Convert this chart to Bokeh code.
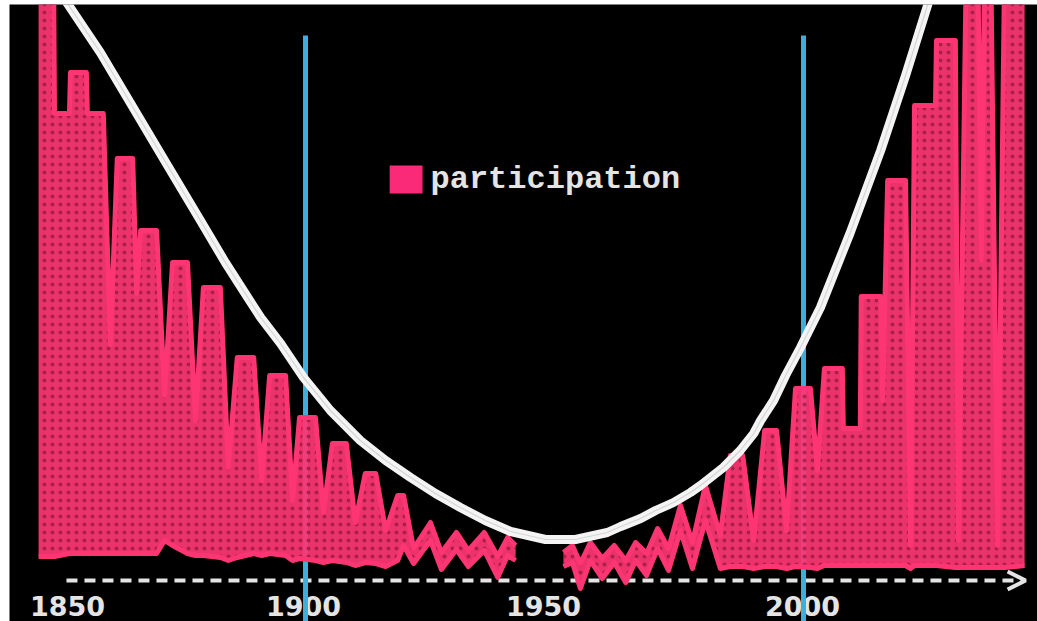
import math
from bokeh.plotting import figure
from bokeh.models import ColumnDataSource, Arrow, OpenHead, Range1d, Label, BoxAnnotation
from bokeh.core.properties import value
from bokeh.embed import file_html
from bokeh.resources import INLINE

nan = float("nan")

# ---- data ----
# participation band: upper and lower edge of the pink trace (gap ~1943-1951)
pink_years = [1846.4, 1849.4, 1849.6, 1852.6, 1852.8, 1856.0, 1856.2, 1859.4, 1860.8, 1862.2,
              1865.3, 1866.1, 1866.9, 1870.1, 1871.7, 1873.3, 1876.3, 1877.9, 1879.5, 1882.9,
              1884.5, 1886.3, 1889.6, 1891.2, 1892.8, 1896.0, 1897.4, 1898.8, 1902.0, 1903.6,
              1905.4, 1908.2, 1910.0, 1912.0, 1914.1, 1916.1, 1918.5, 1919.7, 1921.7, 1925.1,
              1927.3, 1930.3, 1932.7, 1935.9, 1938.6, 1940.6, 1942.2, nan,
              1951.8, 1953.6, 1955.2, 1957.2, 1959.6, 1962.0, 1964.3, 1966.3, 1968.5, 1970.7,
              1972.9, 1975.3, 1977.7, 1980.3, 1983.3, 1985.3, 1987.8, 1990.0, 1992.2, 1994.6,
              1996.6, 1998.4, 2001.4, 2002.8, 2004.2, 2007.8, 2008.0, 2011.4, 2011.6, 2015.5,
              2015.9, 2016.9, 2020.5, 2021.5, 2022.3, 2026.5, 2026.7, 2030.5, 2031.1, 2032.7,
              2035.0, 2035.7, 2036.4, 2037.6, 2039.0, 2040.4, 2044.4]
pink_high = [120.0, 120.0, 89.4, 89.4, 97.6, 97.6, 89.4, 89.4, 43.2, 80.4,
             80.4, 53.4, 66.0, 66.0, 33.0, 59.6, 59.6, 28.0, 54.6, 54.6,
             18.6, 40.6, 40.6, 16.0, 37.0, 37.0, 12.0, 28.6, 28.6, 9.6,
             23.4, 23.4, 7.6, 17.4, 17.4, 6.0, 13.0, 13.0, 2.4, 7.6,
             1.6, 5.6, 2.0, 5.6, 0.8, 4.6, 3.0, nan,
             1.6, 3.0, -0.6, 3.6, 0.4, 3.0, 0.0, 3.6, 1.4, 6.4,
             2.4, 11.0, 3.6, 15.0, 5.0, 21.0, 21.0, 4.0, 26.0, 26.0,
             6.0, 34.4, 34.4, 18.0, 38.4, 38.4, 26.4, 26.4, 52.8, 52.8,
             32.0, 76.0, 76.0, 3.0, 91.0, 91.0, 104.0, 104.0, 4.0, 120.0,
             120.0, 60.0, 120.0, 120.0, 3.0, 120.0, 120.0]
pink_low = [0.8, 0.8, 0.8, 1.4, 1.4, 1.4, 1.4, 1.4, 1.4, 1.4,
            1.4, 1.4, 1.4, 1.4, 4.0, 3.0, 1.4, 1.0, 1.0, 0.6,
            0.0, 0.6, 1.4, 1.0, 1.4, 1.0, 0.0, 0.4, 0.0, -0.4,
            0.0, -0.4, -1.0, -0.4, -0.6, -1.2, 0.0, 3.0, -0.6, 4.0,
            -1.8, 2.2, -1.2, 2.0, -3.4, 1.0, 0.0, nan,
            -1.2, -0.4, -5.6, 0.0, -3.6, -0.4, -4.4, 0.0, -3.0, 2.4,
            -2.0, 6.0, -1.6, 8.0, -1.6, -1.2, -1.2, -1.6, -1.2, -1.2,
            -1.6, -1.2, -1.4, -1.6, -1.0, -1.0, -1.0, -1.0, -1.0, -1.0,
            -1.0, -1.0, -1.0, -1.6, -1.0, -1.0, -1.0, -1.4, -1.4, -1.4,
            -1.4, -1.4, -1.4, -1.4, -1.4, -1.4, -1.0]

# U-shaped trend curve
trend_years = [1850.8, 1852.2, 1858.8, 1865.5, 1872.3, 1878.9, 1883.9, 1888.4, 1891.0,
               1895.0, 1899.6, 1905.0, 1911.0, 1916.1, 1921.1, 1926.1, 1931.1, 1936.1,
               1941.2, 1948.2, 1954.2, 1960.6, 1963.3, 1967.3, 1970.3, 1973.9, 1977.3,
               1979.3, 1983.9, 1987.3, 1990.0, 1991.4, 1994.0, 1996.4, 1999.4, 2003.4,
               2009.4, 2015.5, 2020.5, 2024.9, 2025.9]
trend_values = [114.0, 111.4, 101.6, 90.4, 79.0, 68.0, 59.6, 52.6, 48.6,
                43.4, 36.6, 30.0, 24.0, 20.0, 16.6, 13.4, 10.6, 8.0,
                5.8, 4.2, 4.2, 5.6, 6.8, 8.4, 10.0, 11.6, 13.6,
                15.0, 18.6, 22.0, 25.4, 28.0, 32.0, 37.0, 42.6, 50.6,
                65.6, 82.0, 97.0, 111.0, 114.0]

# vertical markers
marker_years = [1900, 2000]
marker_top = [105.0, 105.0]

# x tick labels and where they sit in the picture
tick_labels = ["1850", "1900", "1950", "2000"]
tick_label_x = [1852.2, 1899.6, 1947.8, 1999.8]

PINK = "#fd3673"
BLUE = "#3eaede"
WHITE = "#f4f4f4"
LABEL = "#e4e4e4"

X0, X1 = 1840.56, 2046.99
Y0, Y1 = -12.2, 111.2

p = figure(width=1037, height=621, x_range=Range1d(X0, X1), y_range=Range1d(Y0, Y1),
           output_backend="svg", toolbar_location=None,
           x_axis_type=None, y_axis_type=None,
           min_border_left=9, min_border_top=4, min_border_right=0, min_border_bottom=0,
           background_fill_color="black", border_fill_color="white",
           outline_line_color=None)

# tick labels (drawn first so the blue markers pass over them)
p.text(x=tick_label_x, y=[-9.0] * len(tick_labels), text=tick_labels,
       text_font=value("DejaVu Sans"), text_font_style="bold",
       text_font_size="27px", text_color=LABEL,
       text_align="center", text_baseline="middle")

# blue markers (pink passes over them)
p.segment(x0=marker_years, y0=marker_top, x1=marker_years, y1=[Y0 - 5] * len(marker_years),
          line_color=BLUE, line_width=5)

# dashed time arrow
p.add_layout(Arrow(x_start=1852.0, y_start=-4.0, x_end=2044.6, y_end=-4.0,
                   line_color=LABEL, line_width=4, line_dash="11 7",
                   end=OpenHead(size=18, line_color=LABEL, line_width=4),
                   level="underlay"))

# participation band, one area per unbroken run
runs, cur = [], []
for i, yr in enumerate(pink_years):
    if math.isnan(yr):
        runs.append(cur)
        cur = []
    else:
        cur.append(i)
runs.append(cur)
for idx in runs:
    src = ColumnDataSource(dict(x=[pink_years[i] for i in idx],
                                lo=[pink_low[i] for i in idx],
                                hi=[pink_high[i] for i in idx]))
    p.varea(x="x", y1="lo", y2="hi", source=src, fill_color=PINK, fill_alpha=0.93,
            hatch_pattern="dot", hatch_color="#7a0e30", hatch_alpha=0.55,
            hatch_scale=8, hatch_weight=2)
    p.line("x", "hi", source=src, line_color=PINK, line_width=5, line_join="round")
    p.line("x", "lo", source=src, line_color=PINK, line_width=5, line_join="round")

# trend curve
p.line(trend_years, trend_values, line_color=WHITE, line_width=9,
       line_join="round", line_cap="round")
p.line(trend_years, trend_values, line_color="#9a9a9a", line_width=1.2, line_alpha=0.35)

# legend
p.add_layout(BoxAnnotation(left=1916.9, right=1923.5, top=79.0, bottom=73.4,
                           fill_color="#fb2a78", fill_alpha=1.0, line_alpha=0))
p.add_layout(Label(x=1925.1, y=76.3, text="participation",
                   text_font="Liberation Mono", text_font_style="bold",
                   text_font_size="32px", text_color=LABEL,
                   text_align="left", text_baseline="middle"))

open("out.html", "w").write(file_html(p, INLINE))
